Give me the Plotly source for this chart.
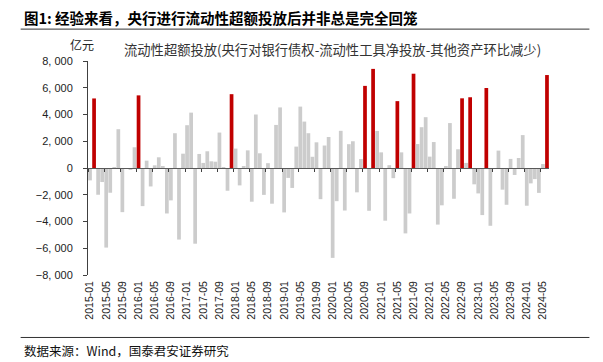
import plotly.graph_objects as go

# ---- data ----
months = [f"{y}-{m:02d}" for y in range(2015, 2025) for m in range(1, 13)][:114]

values = [
    -925, 5200, -2000, -1050, -5950, -1850, 50, 2900, -3300, -30, -80, 1550,      # 2015
    5430, -2850, 550, -1380, 200, 800, 150, -3400, -2420, 2600, -5350, 1070,      # 2016
    3200, 4140, -5660, 1050, 380, 1250, 500, 470, 2650, 50, -1700, 5520,          # 2017
    1450, -1300, 140, 1320, -2520, 4000, 1100, -2010, 360, -2670, 3220, 4530,     # 2018
    -3320, -740, -1490, 1600, 4590, 3470, 2600, 840, 1920, -2330, 1680, 2320,     # 2019
    -6720, -2480, 2780, -3180, 1780, 2000, -1820, 670, 6140, -3200, 7410, 2770,   # 2020
    1170, -3940, 210, -760, 5000, 1170, -4890, -3400, 7050, 1790, 3050, 3800,     # 2021
    850, 1940, -4230, -2790, 100, 3360, -2300, 1400, 5210, 380, 5290, -1220,      # 2022
    -1900, -3520, 5980, -4320, -50, 1300, -1620, -2750, 680, -520, 750, 2460,     # 2023
    -2820, -1150, -830, -1860, 300, 6950,                                         # 2024
]

highlight_months = ["2015-02", "2016-01", "2017-12", "2020-09", "2020-11", "2021-05",
                    "2021-09", "2022-09", "2022-11", "2023-03", "2024-06"]

tick_labels = months[::4]
y_tickvals = [8000, 6000, 4000, 2000, 0, -2000, -4000, -6000, -8000]
y_ticktext = ["8, 000", "6, 000", "4, 000", "2, 000", "0",
              "\u22122, 000", "\u22124, 000", "\u22126, 000", "\u22128, 000"]

title_text = "图1: 经验来看，央行进行流动性超额投放后并非总是完全回笼"
series_name = "流动性超额投放(央行对银行债权-流动性工具净投放-其他资产环比减少)"
unit_text = "亿元"
source_text = "数据来源：Wind，国泰君安证券研究"

RED = "#C00000"
GRAY = "#CCCCCC"
colors = [RED if m in highlight_months else GRAY for m in months]

# ---- layout geometry (pixels; page body has an 8px margin) ----
OFF = 8
W, H = 603 - OFF, 362 - OFF
L, T = 87.5 - OFF, 61.3 - OFF
R = W - (549.5 - OFF)
B = H - (274.7 - OFF)
pw, ph = W - L - R, H - T - B


def px_x(x):  # window pixel -> paper
    return (x - OFF - L) / pw


def px_y(y):
    return (H - B - (y - OFF)) / ph


fig = go.Figure()
fig.add_trace(go.Bar(
    x=months, y=values, marker=dict(color=colors, line=dict(width=0)),
    name=series_name, showlegend=False, hoverinfo="x+y",
))
# invisible helper trace so the zero-line tick axis is drawn
fig.add_trace(go.Scatter(
    x=list(range(len(months))), y=[None] * len(months), xaxis="x2",
    mode="lines", showlegend=False, hoverinfo="skip",
))

CJK = "Noto Sans CJK SC"
NUM = "Liberation Sans"

fig.update_layout(
    width=W, height=H, autosize=False,
    margin=dict(l=L, r=R, t=T, b=B, pad=0, autoexpand=False),
    paper_bgcolor="white", plot_bgcolor="white",
    bargap=0.08,
    xaxis=dict(
        type="category", categoryorder="array", categoryarray=months,
        range=[-0.5, len(months) - 0.5], automargin=False,
        tickvals=tick_labels, ticktext=tick_labels, tickangle=-90,
        tickfont=dict(family=NUM, size=10.5, color="#222"),
        showline=False, ticks="", showgrid=False, zeroline=False,
        ticklabelstandoff=3,
    ),
    xaxis2=dict(
        overlaying="x", anchor="free", position=0.5, automargin=False,
        range=[-0.5, len(months) - 0.5],
        tickvals=[i - 0.5 for i in range(0, len(months), 4)],
        showticklabels=False, ticks="outside", ticklen=3, tickwidth=1,
        tickcolor="#404040",
        showline=True, linecolor="#595959", linewidth=1.3,
        showgrid=False, zeroline=False,
    ),
    yaxis=dict(
        range=[-8000, 8000], tickvals=y_tickvals, ticktext=y_ticktext,
        automargin=False,
        tickfont=dict(family=NUM, size=11, color="#222"),
        showline=True, linecolor="#404040", linewidth=1,
        ticks="outside", ticklen=4, tickcolor="#404040",
        showgrid=False, zeroline=False, ticklabelstandoff=8,
    ),
    font=dict(family=CJK),
    shapes=[
        dict(type="line", xref="paper", yref="paper",
             x0=px_x(20), x1=px_x(590), y0=px_y(29.5), y1=px_y(29.5),
             line=dict(color="#333333", width=1)),
        dict(type="line", xref="paper", yref="paper",
             x0=px_x(20), x1=px_x(590), y0=px_y(337), y1=px_y(337),
             line=dict(color="#333333", width=1)),
    ],
    annotations=[
        dict(text=f"<b>{title_text}</b>", xref="paper", yref="paper",
             x=px_x(21), y=px_y(18), xanchor="left", yanchor="middle",
             showarrow=False, font=dict(family=CJK, size=14.5, color="#000")),
        dict(text=unit_text, xref="paper", yref="paper",
             x=px_x(81), y=px_y(45), xanchor="center", yanchor="middle",
             showarrow=False, font=dict(family=CJK, size=12, color="#222")),
        dict(text=series_name, xref="paper", yref="paper",
             x=px_x(122), y=px_y(50), xanchor="left", yanchor="middle",
             showarrow=False, font=dict(family=CJK, size=13.3, color="#333")),
        dict(text=source_text, xref="paper", yref="paper",
             x=px_x(21), y=px_y(350), xanchor="left", yanchor="middle",
             showarrow=False, font=dict(family=CJK, size=12.5, color="#111")),
    ],
)

fig.write_html("out.html")
